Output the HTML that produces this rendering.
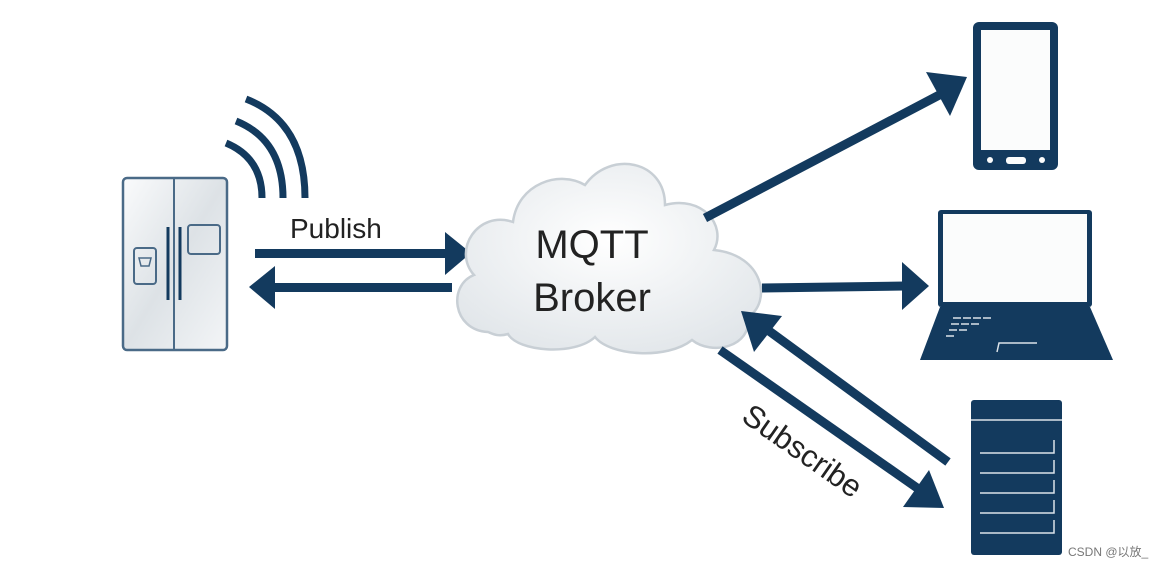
<!DOCTYPE html>
<html><head><style>
body{margin:0;background:#fff;width:1166px;height:567px;overflow:hidden;font-family:"Liberation Sans","Noto Sans CJK SC",sans-serif}
</style></head><body>
<svg width="1166" height="567" viewBox="0 0 1166 567">
<defs>
<linearGradient id="fg" x1="0" y1="0" x2="1" y2="1"><stop offset="0" stop-color="#fafbfc"/><stop offset="0.5" stop-color="#dde2e6"/><stop offset="1" stop-color="#f3f5f7"/></linearGradient>
<radialGradient id="cg" cx="0.5" cy="0.4" r="0.7"><stop offset="0" stop-color="#ffffff"/><stop offset="1" stop-color="#dfe4e8"/></radialGradient>
</defs>
<g fill="none" stroke="#133a5e" stroke-width="7" stroke-linecap="butt">
<path d="M226 143 Q262 158 262 198"/>
<path d="M236 121 Q283 140 283 198"/>
<path d="M246 99 Q305 122 305 198"/>
</g>
<rect x="123" y="178" width="104" height="172" rx="4" fill="url(#fg)" stroke="#4a6a87" stroke-width="2.5"/>
<line x1="174" y1="179" x2="174" y2="349" stroke="#4a6a87" stroke-width="2"/>
<line x1="168" y1="227" x2="168" y2="300" stroke="#133a5e" stroke-width="3"/>
<line x1="180" y1="227" x2="180" y2="300" stroke="#133a5e" stroke-width="3"/>
<rect x="134" y="248" width="22" height="36" rx="3" fill="none" stroke="#4a6a87" stroke-width="2"/>
<path d="M139 258 h12 l-2 8 h-8 z" fill="none" stroke="#4a6a87" stroke-width="1.5"/>
<rect x="188" y="225" width="32" height="29" rx="3" fill="none" stroke="#4a6a87" stroke-width="2"/>
<text x="290" y="238" font-size="28" fill="#222">Publish</text>
<g fill="#133a5e">
<rect x="255" y="249" width="195" height="9"/><polygon points="445,232 471,253 445,275"/>
<rect x="272" y="283" width="180" height="9"/><polygon points="275,266 249,287 275,309"/>
</g>
<path d="M488 332 C452 330 448 285 474 275 C452 250 478 210 513 222 C518 183 560 170 585 185 C610 150 665 160 665 205 C702 195 727 225 714 250 C764 255 772 302 748 317 C752 347 712 356 692 340 C667 360 610 356 595 337 C575 356 518 352 508 334 C498 337 493 334 488 332 Z" fill="url(#cg)" stroke="#c8cfd5" stroke-width="2.5"/>
<text x="592" y="258" font-size="40" fill="#222" text-anchor="middle">MQTT</text>
<text x="592" y="311" font-size="40" fill="#222" text-anchor="middle">Broker</text>
<g stroke="#133a5e" stroke-width="9">
<line x1="705" y1="218" x2="945" y2="92"/>
<line x1="762" y1="288" x2="905" y2="286"/>
<line x1="948" y1="462" x2="765" y2="328"/>
<line x1="720" y1="350" x2="920" y2="490"/>
</g>
<g fill="#133a5e">
<polygon points="967,77 926,72 950,116"/>
<polygon points="929,286 902,262 902,310"/>
<polygon points="741,311 782,316 754,352"/>
<polygon points="944,508 903,507 929,470"/>
</g>
<text transform="translate(740,420) rotate(35)" font-size="31" fill="#222">Subscribe</text>
<rect x="973" y="22" width="85" height="148" rx="6" fill="#133a5e"/>
<rect x="981" y="30" width="69" height="120" fill="#fbfcfc"/>
<rect x="1006" y="157" width="20" height="7" rx="3" fill="#fbfcfc"/>
<circle cx="990" cy="160" r="3" fill="#fbfcfc"/><circle cx="1042" cy="160" r="3" fill="#fbfcfc"/>
<rect x="938" y="210" width="154" height="97" rx="3" fill="#133a5e"/>
<rect x="943" y="214" width="144" height="88" fill="#fbfcfc"/>
<polygon points="940,307 1090,307 1113,360 920,360" fill="#133a5e"/>
<g stroke="#dbe2e8" stroke-width="1.5" fill="none">
<path d="M953 318h8M963 318h8M973 318h8M983 318h8M951 324h8M961 324h8M971 324h8M949 330h8M959 330h8M946 336h8"/>
<path d="M997 352 l2 -9 h38"/>
</g>
<rect x="971" y="400" width="91" height="155" rx="3" fill="#133a5e"/>
<line x1="971" y1="420" x2="1062" y2="420" stroke="#dbe2e8" stroke-width="1.5"/>
<g stroke="#dbe2e8" stroke-width="1.5" fill="none">
<path d="M980 453h74v-13M980 473h74v-13M980 493h74v-13M980 513h74v-13M980 533h74v-13"/>
</g>
<text x="1068" y="556" font-size="12" fill="#777">CSDN @以放_</text>
</svg>
</body></html>
